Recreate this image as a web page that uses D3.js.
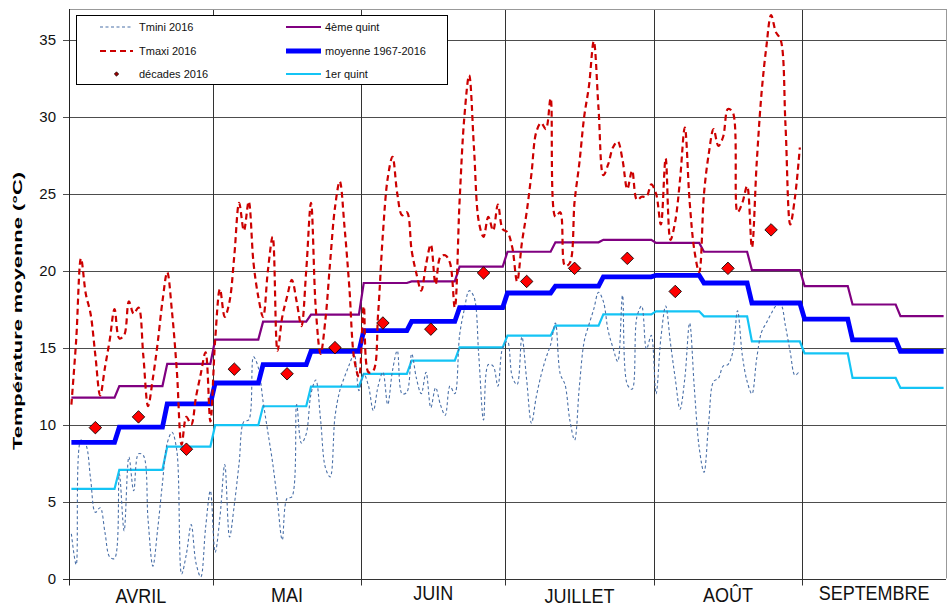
<!DOCTYPE html>
<html><head><meta charset="utf-8">
<script src="https://cdn.jsdelivr.net/npm/d3@7"></script>
<style>body{margin:0;background:#fff} text{font-family:"Liberation Sans",Arial,sans-serif}</style>
</head><body><svg id="c" width="950" height="608"></svg>
<script>
// ---- data ----
const months = ["AVRIL","MAI","JUIN","JUILLET","AOÛT","SEPTEMBRE"];
const yTicks = [0,5,10,15,20,25,30,35];
// daily values 1 April -> 31 August 2016
const tmini2016 = [
 2.9,0.9,9.0,8.7,6.5,4.3,4.6,3.0,1.4,1.3,6.8,3.1,7.9,5.7,8.1,8.0,3.8,0.8,3.2,6.2,8.8,9.5,8.3,0.3,1.6,3.5,1.0,0.1,3.3,5.7,
 1.7,4.0,7.4,2.7,4.8,7.5,10.2,10.3,14.4,13.7,11.5,9.5,7.5,5.0,2.5,5.2,5.3,11.3,8.8,9.4,12.0,12.9,10.3,7.2,6.6,10.5,12.2,13.1,13.9,14.6,12.2,
 13.3,12.5,10.9,12.5,13.4,11.3,13.5,14.8,12.0,12.1,14.6,13.0,12.0,13.4,11.1,12.4,11.3,10.6,12.5,12.0,15.8,17.5,18.7,18.3,14.5,10.3,13.9,13.8,12.5,15.0,
 15.4,13.1,12.6,15.7,12.9,10.1,11.8,13.2,14.3,15.2,16.6,13.3,12.6,10.3,9.0,12.5,15.4,16.5,17.5,18.6,18.0,16.1,15.0,14.1,18.4,12.6,12.3,17.0,17.7,14.9,15.8,
 12.0,15.6,17.7,15.3,13.0,11.0,13.0,16.6,12.3,8.5,6.9,10.2,12.8,13.0,13.8,13.9,14.7,17.4,14.5,12.8,12.0,14.3,16.0,16.6,17.2,17.7,17.8,16.4,14.7,13.2,13.5
];
const tmaxi2016 = [
 11.3,15.5,20.8,18.5,17.2,14.5,11.9,13.7,15.5,17.5,15.6,15.8,18.0,17.2,17.6,14.5,11.2,13.0,15.3,18.0,19.9,17.3,13.5,8.7,10.5,10.0,11.8,13.3,14.7,10.2,
 15.5,18.8,17.0,18.0,21.0,24.4,22.6,24.5,20.5,18.3,17.0,20.0,22.2,14.8,17.0,18.3,19.4,18.0,16.4,20.0,24.4,17.5,14.6,16.8,20.6,24.1,25.8,22.8,18.9,14.3,13.1,
 17.7,13.4,13.5,17.2,22.4,26.0,27.4,25.0,23.6,23.8,21.3,19.8,18.7,20.4,21.7,19.1,20.9,21.0,20.5,17.6,24.5,30.0,32.7,28.0,23.2,22.2,23.5,22.6,24.3,22.7,
 22.5,21.5,19.3,21.8,23.8,26.3,29.0,29.6,29.2,31.2,23.5,23.8,20.3,20.5,24.5,27.0,30.0,32.0,34.9,30.5,26.2,26.9,28.0,28.4,27.2,25.3,26.5,24.6,24.8,24.8,25.6,
 25.0,23.0,27.3,22.0,23.2,25.9,29.3,24.5,21.3,19.9,25.0,27.6,29.2,28.1,28.7,30.5,30.3,23.8,24.4,25.5,21.5,27.0,31.5,34.5,36.6,35.5,35.0,29.5,23.0,24.8,28.0
];
const decadeDates = ["2016-04-06","2016-04-15","2016-04-25","2016-05-05","2016-05-16","2016-05-26",
 "2016-06-05","2016-06-15","2016-06-26","2016-07-05","2016-07-15","2016-07-26","2016-08-05","2016-08-16","2016-08-25"];
const decades2016 = [9.8,10.5,8.4,13.6,13.3,15.0,16.6,16.2,19.85,19.3,20.15,20.8,18.65,20.15,22.65];
// one value per decade, April D1 -> September D3
const quint4 = [11.75,12.5,13.95,15.52,16.69,17.15,19.2,19.3,20.26,21.23,21.84,22.0,21.8,21.23,20.04,19.0,17.8,17.05];
const moyenne = [8.85,9.83,11.34,12.7,13.9,14.75,16.1,16.7,17.6,18.55,19.0,19.6,19.7,19.2,17.9,16.85,15.5,14.75];
const quint1 = [5.82,7.06,8.57,9.96,11.19,12.46,13.29,14.16,15.02,15.78,16.43,17.16,17.36,17.03,15.4,14.63,13.03,12.38];

// ---- layout ----
const svg = d3.select("#c");
const L = 69, R = 946, T = 9, B = 578.5;
const start = Date.UTC(2016,3,1), end = Date.UTC(2016,9,1);
const DAY = 864e5;
const x = d3.scaleUtc().domain([new Date(start), new Date(end)]).range([L, R]);
const y = d3.scaleLinear().domain([0,37]).range([B, T]);
const dayCenter = i => new Date(start + i*DAY + DAY/2);

// daily step series from decade values
const nDays = 183;
function daily(arr){
  const out=[];
  for(let i=0;i<nDays;i++){
    const dt=new Date(start+i*DAY);
    const m=dt.getUTCMonth()-3, d=dt.getUTCDate();
    const dec = d<=10?0:(d<=20?1:2);
    out.push({t:dayCenter(i), v:arr[m*3+dec]});
  }
  return out;
}

// grid
const g = svg.append("g");
g.selectAll("line.h").data(yTicks).join("line")
  .attr("x1", L-6).attr("x2", R).attr("y1", d=>Math.round(y(d))+0.5).attr("y2", d=>Math.round(y(d))+0.5)
  .attr("stroke", d=>d===0?"#333":"#4d4d4d").attr("stroke-width",1.1);
const monthStarts = d3.range(0,7).map(k=>new Date(Date.UTC(2016,3+k,1)));
g.selectAll("line.v").data(monthStarts.slice(1,6)).join("line")
  .attr("x1", d=>Math.round(x(d))+0.5).attr("x2", d=>Math.round(x(d))+0.5)
  .attr("y1", T).attr("y2", B+7).attr("stroke","#333").attr("stroke-width",1);
// border
g.append("line").attr("x1",L).attr("x2",R).attr("y1",T+0.5).attr("y2",T+0.5).attr("stroke","#999");
g.append("line").attr("x1",R+0.5).attr("x2",R+0.5).attr("y1",T).attr("y2",B).attr("stroke","#999");
g.append("line").attr("x1",L+0.5).attr("x2",L+0.5).attr("y1",T).attr("y2",B+7).attr("stroke","#222");

// y tick labels
svg.selectAll("text.yt").data(yTicks).join("text")
  .attr("x", 56).attr("y", d=>y(d)).attr("dy","0.36em").attr("text-anchor","end")
  .attr("font-size",15).attr("fill","#111").text(d=>d);
// month labels (individual baselines as in the original text boxes)
const monthBase = [603,602,600,603,602,600];
svg.selectAll("text.m").data(months).join("text")
  .attr("transform",(d,i)=>`translate(${(x(monthStarts[i])+x(monthStarts[i+1]))/2},${monthBase[i]}) scale(1,1.1)`)
  .attr("text-anchor","middle").attr("font-size",18).attr("fill","#111").text(d=>d);
// y label
svg.append("text").attr("transform","translate(22,311) rotate(-90)")
  .attr("text-anchor","middle").attr("font-size",13.5).attr("font-weight","bold")
  .attr("textLength",278).attr("lengthAdjust","spacingAndGlyphs")
  .text("Température moyenne (°C)");

// series
const line = d3.line().x(d=>x(d.t)).y(d=>y(d.v));
const smooth = d3.line().x(d=>x(d.t)).y(d=>y(d.v)).curve(d3.curveCatmullRom.alpha(0.5));
const tminData = tmini2016.map((v,i)=>({t:dayCenter(i),v}));
const tmaxData = tmaxi2016.map((v,i)=>({t:dayCenter(i),v}));

svg.append("path").datum(daily(quint1)).attr("d",line).attr("fill","none").attr("stroke","#14c4f5").attr("stroke-width",2.2);
svg.append("path").datum(tminData).attr("d",smooth).attr("fill","none").attr("stroke","#4a70a8").attr("stroke-width",1.1).attr("stroke-dasharray","3,2.5");
svg.append("path").datum(daily(quint4)).attr("d",line).attr("fill","none").attr("stroke","#800080").attr("stroke-width",2.2);
svg.append("path").datum(daily(moyenne)).attr("d",line).attr("fill","none").attr("stroke","#0000ff").attr("stroke-width",4.8);
svg.append("path").datum(tmaxData).attr("d",smooth).attr("fill","none").attr("stroke","#cc0000").attr("stroke-width",2.2).attr("stroke-dasharray","6,4");

const dia = d3.symbol(d3.symbolSquare, 78);
svg.selectAll("path.dec").data(decades2016).join("path")
  .attr("d", dia)
  .attr("transform",(d,i)=>`translate(${x(new Date(Date.parse(decadeDates[i]+"T12:00:00Z")))},${y(d)}) rotate(45)`)
  .attr("fill","#ff0000").attr("stroke","#000").attr("stroke-width",0.8);

// legend
const lg = svg.append("g");
lg.append("rect").attr("x",76.5).attr("y",15.5).attr("width",371).attr("height",69).attr("fill","#fff").attr("stroke","#000");
const items = [
  {c:0,r:0,label:"Tmini 2016",stroke:"#4a70a8",w:1.1,dash:"3,2.5"},
  {c:0,r:1,label:"Tmaxi 2016",stroke:"#cc0000",w:2.2,dash:"6,4"},
  {c:0,r:2,label:"décades 2016",marker:true},
  {c:1,r:0,label:"4ème quint",stroke:"#800080",w:2.2},
  {c:1,r:1,label:"moyenne 1967-2016",stroke:"#0000ff",w:4.8},
  {c:1,r:2,label:"1er quint",stroke:"#14c4f5",w:2.2}
];
const rowY=[27,51,74], colX=[[100,133,139],[286,321,325]];
items.forEach(it=>{
  const yy=rowY[it.r], cx=colX[it.c];
  if(it.marker){
    lg.append("path").attr("d",d3.symbol(d3.symbolSquare,10)).attr("transform",`translate(${(cx[0]+cx[1])/2},${yy}) rotate(45)`)
      .attr("fill","#990000").attr("stroke","#000").attr("stroke-width",0.6);
  } else {
    lg.append("line").attr("x1",cx[0]).attr("x2",cx[1]).attr("y1",yy).attr("y2",yy)
      .attr("stroke",it.stroke).attr("stroke-width",it.w).attr("stroke-dasharray",it.dash||null);
  }
  lg.append("text").attr("x",cx[2]).attr("y",yy).attr("dy","0.36em").attr("font-size",11).attr("fill","#111").text(it.label);
});
</script></body></html>
